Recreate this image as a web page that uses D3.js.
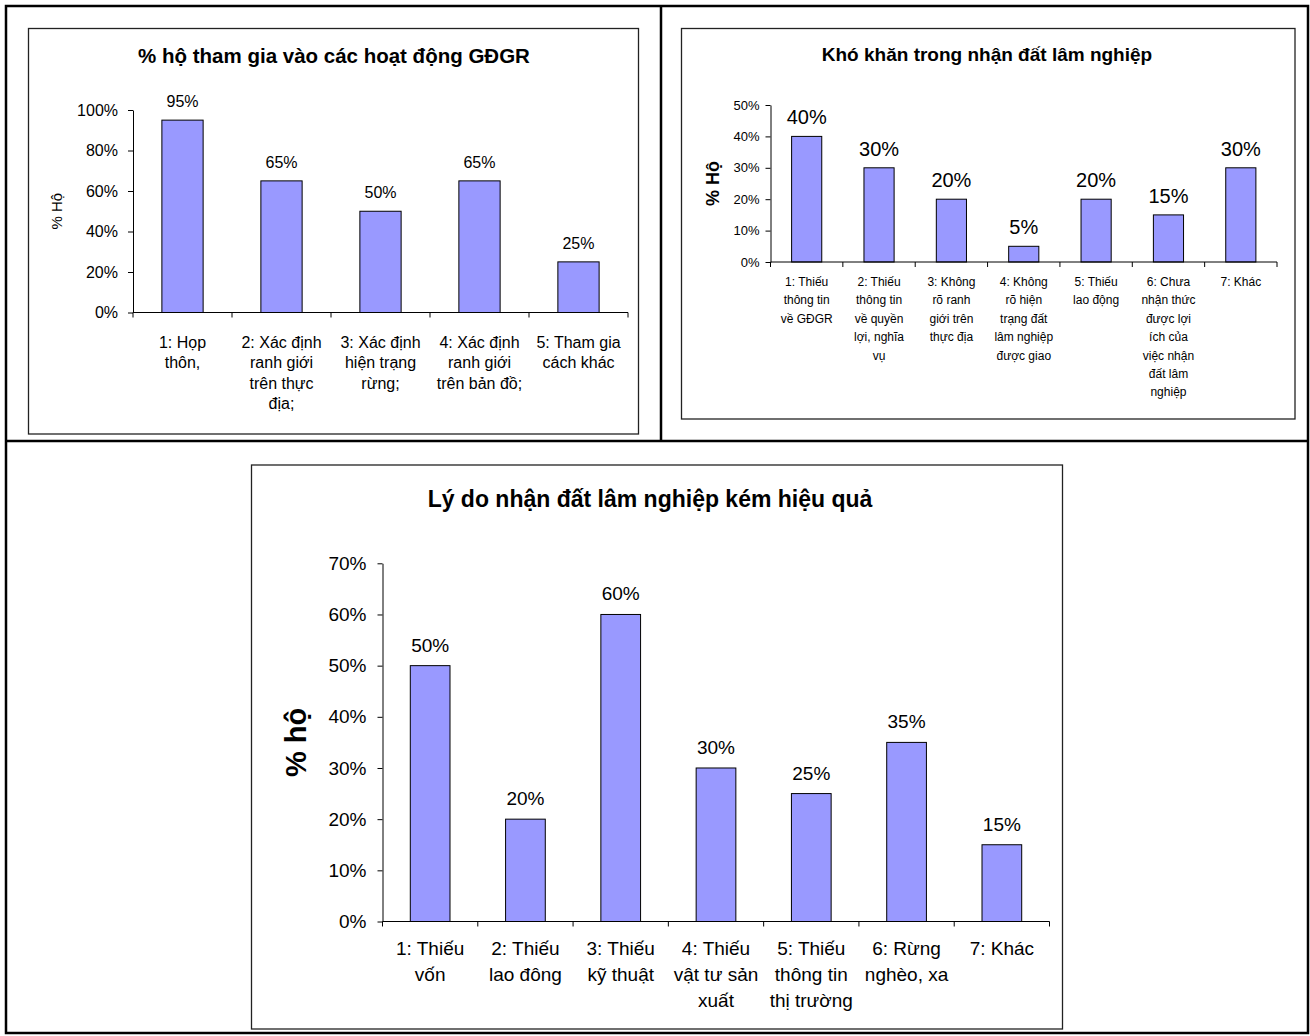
<!DOCTYPE html>
<html>
<head>
<meta charset="utf-8">
<script src="https://cdn.jsdelivr.net/npm/d3@7"></script>
<style>
  body { margin: 0; background: #fff; }
  svg text { font-family: "Liberation Sans", Arial, sans-serif; fill: #000; }
</style>
</head>
<body>
<svg id="page" width="1310" height="1036"></svg>
<script>
// ---- data ----
var title1 = "% hộ tham gia vào các hoạt động GĐGR";
var cats1 = [
  ["1: Họp", "thôn,"],
  ["2: Xác định", "ranh giới", "trên thực", "địa;"],
  ["3: Xác định", "hiện trạng", "rừng;"],
  ["4: Xác định", "ranh giới", "trên bản đồ;"],
  ["5: Tham gia", "cách khác"]
];
var values1 = [95, 65, 50, 65, 25];
var ticks1 = [0, 20, 40, 60, 80, 100];

var title2 = "Khó khăn trong nhận đất lâm nghiệp";
var cats2 = [
  ["1: Thiếu", "thông tin", "về GĐGR"],
  ["2: Thiếu", "thông tin", "về quyền", "lợi, nghĩa", "vụ"],
  ["3: Không", "rõ ranh", "giới trên", "thực địa"],
  ["4: Không", "rõ hiện", "trạng đất", "lâm nghiệp", "được giao"],
  ["5: Thiếu", "lao động"],
  ["6: Chưa", "nhận thức", "được lợi", "ích của", "việc nhận", "đất lâm", "nghiệp"],
  ["7: Khác"]
];
var values2 = [40, 30, 20, 5, 20, 15, 30];
var ticks2 = [0, 10, 20, 30, 40, 50];

var title3 = "Lý do nhận đất lâm nghiệp kém hiệu quả";
var cats3 = [
  ["1: Thiếu", "vốn"],
  ["2: Thiếu", "lao đông"],
  ["3: Thiếu", "kỹ thuật"],
  ["4: Thiếu", "vật tư sản", "xuất"],
  ["5: Thiếu", "thông tin", "thị trường"],
  ["6: Rừng", "nghèo, xa"],
  ["7: Khác"]
];
var values3 = [50, 20, 60, 30, 25, 35, 15];
var ticks3 = [0, 10, 20, 30, 40, 50, 60, 70];

var svg = d3.select("#page");

// outer table frame
var frame = svg.append("g").attr("fill", "none").attr("stroke", "#000").attr("stroke-width", 2.5);
frame.append("rect").attr("x", 6).attr("y", 6).attr("width", 1302).attr("height", 1027);
frame.append("line").attr("x1", 661).attr("x2", 661).attr("y1", 6).attr("y2", 441);
frame.append("line").attr("x1", 6).attr("x2", 1308).attr("y1", 441).attr("y2", 441);

function drawChart(o) {
  var g = svg.append("g");

  // chart area border
  g.append("rect")
    .attr("x", o.box[0]).attr("y", o.box[1])
    .attr("width", o.box[2] - o.box[0]).attr("height", o.box[3] - o.box[1])
    .attr("fill", "#fff").attr("stroke", "#222").attr("stroke-width", 1.3);

  g.append("text")
    .attr("x", o.titleX).attr("y", o.titleY)
    .attr("text-anchor", "middle")
    .style("font-size", o.titleSize + "px").style("font-weight", "bold")
    .text(o.title);

  var keys = o.cats.map(function (d, i) { return i; });

  var xCat = d3.scaleBand().domain(keys).range([o.x0, o.x1]).padding(0);
  var xBar = d3.scaleBand().domain(keys).range([o.x0, o.x1])
    .paddingInner(0.5833).paddingOuter(0.2917);
  var y = d3.scaleLinear().domain([0, d3.max(o.ticks)]).range([o.y0, o.y1]);

  // y axis
  var yAxis = g.append("g")
    .attr("transform", "translate(" + o.x0 + ",0)")
    .call(d3.axisLeft(y).tickValues(o.ticks).tickFormat(function (d) { return d + "%"; })
      .tickSize(5).tickSizeOuter(0).tickPadding(o.tickPad));
  yAxis.selectAll("text").style("font-size", o.tickSize + "px").attr("font-family", null);
  yAxis.selectAll("path, line").attr("stroke", "#000");

  // bars
  g.selectAll(".bar").data(o.values).enter().append("rect")
    .attr("x", function (d, i) { return xBar(i); })
    .attr("y", function (d) { return y(d); })
    .attr("width", xBar.bandwidth())
    .attr("height", function (d) { return o.y0 - y(d); })
    .attr("fill", "#9999ff").attr("stroke", "#000").attr("stroke-width", 1);

  // value labels
  g.selectAll(".val").data(o.values).enter().append("text")
    .attr("x", function (d, i) { return xBar(i) + xBar.bandwidth() / 2; })
    .attr("y", function (d) { return y(d) - o.valGap; })
    .attr("text-anchor", "middle")
    .style("font-size", o.valSize + "px")
    .text(function (d) { return d + "%"; });

  // x axis: category boundary ticks
  var xAxis = g.append("g").attr("transform", "translate(0," + o.y0 + ")");
  xAxis.append("line").attr("x1", o.x0).attr("x2", o.x1).attr("stroke", "#000");
  var bounds = keys.map(function (k) { return xCat(k); }).concat([o.x1]);
  xAxis.selectAll(".tk").data(bounds).enter().append("line")
    .attr("x1", function (d) { return d; }).attr("x2", function (d) { return d; })
    .attr("y1", 0).attr("y2", 5).attr("stroke", "#000");

  // category labels
  var lab = g.selectAll(".cat").data(o.cats).enter().append("text")
    .attr("text-anchor", "middle")
    .style("font-size", o.catSize + "px")
    .attr("transform", function (d, i) {
      return "translate(" + (xCat(i) + xCat.bandwidth() / 2) + "," + (o.y0 + o.catOff) + ")";
    });
  lab.selectAll("tspan").data(function (d) { return d; }).enter().append("tspan")
    .attr("x", 0).attr("y", function (d, i) { return i * o.catLine; })
    .text(function (d) { return d; });

  // y axis title
  g.append("text")
    .attr("transform", "translate(" + o.yLabX + "," + ((o.y0 + o.y1) / 2) + ") rotate(-90)")
    .attr("text-anchor", "middle").attr("dy", "0.35em")
    .style("font-size", o.yLabSize + "px")
    .style("font-weight", o.yLabBold ? "bold" : "normal")
    .text(o.yLab);
}

drawChart({
  box: [28.5, 28.5, 638.5, 434], title: title1, titleX: 334, titleY: 63, titleSize: 20.5,
  cats: cats1, values: values1, ticks: ticks1,
  x0: 133, x1: 628, y0: 312.5, y1: 110,
  tickSize: 16, tickPad: 10, valSize: 16, valGap: 13,
  catSize: 16, catOff: 35, catLine: 20.5,
  yLab: "% Hộ", yLabX: 57, yLabSize: 15, yLabBold: false
});

drawChart({
  box: [681.5, 28.5, 1295, 419], title: title2, titleX: 987, titleY: 61, titleSize: 19,
  cats: cats2, values: values2, ticks: ticks2,
  x0: 770.5, x1: 1277, y0: 262, y1: 105,
  tickSize: 13, tickPad: 6, valSize: 20, valGap: 12,
  catSize: 12, catOff: 24, catLine: 18.4,
  yLab: "% Hộ", yLabX: 713, yLabSize: 18, yLabBold: true
});

drawChart({
  box: [251.5, 465, 1062.5, 1029], title: title3, titleX: 650, titleY: 507, titleSize: 23,
  cats: cats3, values: values3, ticks: ticks3,
  x0: 382.5, x1: 1049.5, y0: 921.5, y1: 563.3,
  tickSize: 19, tickPad: 11, valSize: 19, valGap: 14,
  catSize: 19, catOff: 33, catLine: 26,
  yLab: "% hộ", yLabX: 296, yLabSize: 29, yLabBold: true
});
</script>
</body>
</html>
